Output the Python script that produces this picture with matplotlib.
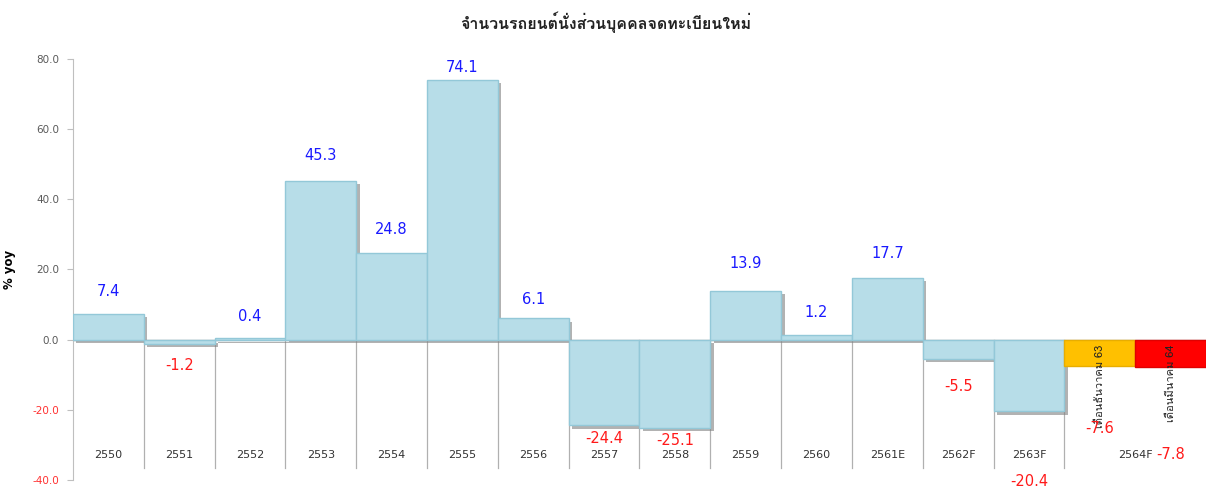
import matplotlib
matplotlib.use('Agg')
import matplotlib.pyplot as plt
import matplotlib.patheffects as pe
from matplotlib import font_manager
from matplotlib.ft2font import FT2Font

# pick an installed font that has Thai glyphs
thai_font = 'DejaVu Sans'
for f in font_manager.fontManager.ttflist:
    try:
        if 0x0E08 in FT2Font(f.fname).get_charmap():
            thai_font = f.name
            break
    except Exception:
        pass
plt.rcParams['font.family'] = [thai_font, 'DejaVu Sans']

title = 'จำนวนรถยนต์นั่งส่วนบุคคลจดทะเบียนใหม่'
years = ['2550', '2551', '2552', '2553', '2554', '2555', '2556', '2557',
         '2558', '2559', '2560', '2561E', '2562F', '2563F', '2564F']
values = [7.4, -1.2, 0.4, 45.3, 24.8, 74.1, 6.1, -24.4, -25.1, 13.9, 1.2,
          17.7, -5.5, -20.4, -7.6, -7.8]
month_notes = ['เดือนธันวาคม 63', 'เดือนมีนาคม 64']

# hand placed label shifts, like in the original sheet
label_shift = [6.3, -6.2, 6.2, 7.2, 6.6, 3.5, 5.3, -3.8, -3.7, 7.8, 6.5,
               6.8, -7.9, -20.1, -17.8, -25.0]

n = len(values)
xs = list(range(n))
colors = ['#b7dde8'] * (n - 2) + ['#ffc000', '#ff0000']
edges = ['#93c8d8'] * (n - 2) + ['#e8ad00', '#e00000']

fig = plt.figure(figsize=(12.06, 4.88), dpi=100)
ax = fig.add_axes([0.0605, 0.0164, 0.9395, 0.8627])

# category separators
for i in range(n - 2):
    ax.plot([i + 0.5, i + 0.5], [0, -36.6], color='#b0b0b0', lw=0.9, zorder=1)

bars = ax.bar(xs, values, width=1.0, color=colors, edgecolor=edges,
              linewidth=1.0, zorder=3)
for b in bars[:n - 2]:
    b.set_path_effects([pe.SimplePatchShadow(offset=(2.5, -2.5),
                                             shadow_rgbFace='#808080', alpha=0.6),
                        pe.Normal()])

ax.axhline(0, color='#9a9a9a', lw=1.0, zorder=2)

for x, v, s in zip(xs, values, label_shift):
    ax.text(x, v + s, f'{v:.1f}', ha='center', va='center', fontsize=10.5,
            color='#1a1aff' if v >= 0 else '#ff1a1a', zorder=5,
            family='DejaVu Sans')

# year labels, last one spans the two monthly bars
for i, y in enumerate(years):
    cx = i if i < len(years) - 1 else i + 0.5
    ax.text(cx, -33, y, ha='center', va='center', fontsize=8,
            color='#333333', family='DejaVu Sans')

for i, note in enumerate(month_notes):
    ax.text(n - 2 + i, -1.3, note, rotation=90, ha='center', va='top',
            fontsize=8, color='#222222', zorder=4)

ax.set_xlim(-0.5, n - 0.5)
ax.set_ylim(-40, 80)
ax.set_yticks([-40, -20, 0, 20, 40, 60, 80])
ax.set_yticklabels([f'{t:.1f}' for t in [-40, -20, 0, 20, 40, 60, 80]],
                   family='DejaVu Sans')
for lab, t in zip(ax.get_yticklabels(), [-40, -20, 0, 20, 40, 60, 80]):
    lab.set_color('#ff3030' if t < 0 else '#595959')
ax.tick_params(axis='y', labelsize=7.5, length=4, color='#bfbfbf', pad=6)
ax.set_xticks([])
for side in ['top', 'right', 'bottom']:
    ax.spines[side].set_visible(False)
ax.spines['left'].set_color('#bfbfbf')

ax.set_ylabel('% yoy', fontsize=8.5, fontweight='bold', family='DejaVu Sans',
              labelpad=12)
fig.text(0.502, 0.955, title, ha='center', va='center', fontsize=11.5,
         fontweight='bold', color='#222222')

fig.savefig('out.png', dpi=100)
